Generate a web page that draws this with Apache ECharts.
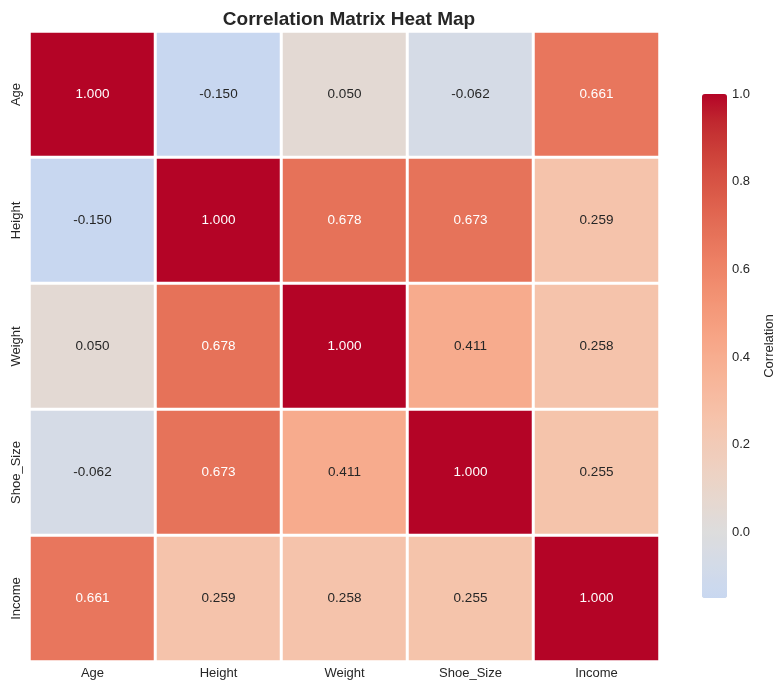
<!DOCTYPE html>
<html><head><meta charset="utf-8">
<script src="https://cdn.jsdelivr.net/npm/echarts@6/dist/echarts.min.js"></script>
<style>html,body{margin:0;padding:0;background:#fff}#c{width:781px;height:690px}</style>
</head><body><div id="c"></div>
<script>
const categories = ['Age', 'Height', 'Weight', 'Shoe_Size', 'Income'];
const rowAge = [1.000, -0.150, 0.050, -0.062, 0.661];
const rowHeight = [-0.150, 1.000, 0.678, 0.673, 0.259];
const rowWeight = [0.050, 0.678, 1.000, 0.411, 0.258];
const rowShoe = [-0.062, 0.673, 0.411, 1.000, 0.255];
const rowIncome = [0.661, 0.259, 0.258, 0.255, 1.000];
const colorbarTicks = [0.0, 0.2, 0.4, 0.6, 0.8, 1.0];
const vMin = -0.15, vMax = 1.0;

const rows = [rowAge, rowHeight, rowWeight, rowShoe, rowIncome];

// matplotlib coolwarm table
const cw = [[59,76,192],[68,90,204],[77,104,215],[87,117,225],[98,130,234],[108,142,241],[119,154,247],[130,165,251],[141,176,254],[152,185,255],[163,194,255],[174,201,253],[184,208,249],[194,213,244],[204,217,238],[213,219,230],[221,221,221],[229,216,209],[236,211,197],[241,204,185],[245,196,173],[247,187,160],[247,177,148],[247,166,135],[244,154,123],[241,141,111],[236,127,99],[229,112,88],[222,96,77],[213,80,66],[203,62,56],[192,40,47],[180,4,38]];
function coolwarm(t){
  t = Math.max(0, Math.min(1, t));
  const p = t * (cw.length - 1); const i = Math.min(cw.length - 2, Math.floor(p)); const f = p - i;
  return [0,1,2].map(k => Math.round(cw[i][k] + (cw[i+1][k] - cw[i][k]) * f));
}
function hex(c){ return '#' + c.map(x => x.toString(16).padStart(2,'0')).join(''); }
// seaborn center=0: symmetric range
const span = Math.max(Math.abs(vMin), Math.abs(vMax));
const stops = [];
const N = 60;
for (let i = 0; i <= N; i++) {
  const v = vMin + (vMax - vMin) * i / N;
  stops.push(hex(coolwarm((v + span) / (2 * span))));
}
function textColor(v){
  const c = coolwarm((v + span) / (2 * span)).map(x => { x /= 255; return x <= 0.03928 ? x / 12.92 : Math.pow((x + 0.055) / 1.055, 2.4); });
  const lum = 0.2126 * c[0] + 0.7152 * c[1] + 0.0722 * c[2];
  return lum > 0.408 ? '#262626' : '#ffffff';
}

const data = [];
rows.forEach((r, yi) => r.forEach((v, xi) => {
  data.push({ value: [xi, yi, v], label: { color: textColor(v) } });
}));

const font = 'Liberation Sans, Arial, sans-serif';
const chart = echarts.init(document.getElementById('c'), null, { renderer: 'canvas' });
chart.setOption({
  backgroundColor: '#ffffff',
  animation: false,
  title: {
    text: 'Correlation Matrix Heat Map', left: 344, top: 5, textAlign: 'center',
    textStyle: { fontFamily: font, fontSize: 19, fontWeight: 'bold', color: '#262626' }
  },
  grid: [
    { left: 29.5, top: 31.5, width: 630, height: 630 },
    { left: 702, top: 94, width: 25, height: 504 }
  ],
  xAxis: [
    { type: 'category', data: categories, gridIndex: 0, axisLine: { show: false }, axisTick: { show: false },
      splitLine: { show: false }, axisLabel: { fontFamily: font, fontSize: 13, color: '#262626', margin: 5 } },
    { type: 'value', gridIndex: 1, show: false, min: 0, max: 1 }
  ],
  yAxis: [
    { type: 'category', data: categories, inverse: true, gridIndex: 0, axisLine: { show: false }, axisTick: { show: false },
      splitLine: { show: false }, axisLabel: { fontFamily: font, fontSize: 13, color: '#262626', rotate: 90, margin: 7 } },
    { type: 'value', gridIndex: 1, position: 'right', min: vMin, max: vMax,
      axisLine: { show: false }, splitLine: { show: false },
      axisTick: { show: false },
      axisLabel: { fontFamily: font, fontSize: 13, color: '#262626', margin: 5,
        customValues: colorbarTicks, formatter: v => v.toFixed(1) },
      name: 'Correlation', nameLocation: 'middle', nameRotate: 90, nameGap: 36,
      nameTextStyle: { fontFamily: font, fontSize: 13, color: '#262626' } }
  ],
  visualMap: {
    type: 'continuous', min: vMin, max: vMax, calculable: false, show: true,
    left: 702, top: 94, itemWidth: 25, itemHeight: 504, padding: 0, text: null, showLabel: false,
    inRange: { color: stops }, seriesIndex: 0
  },
  series: [{
    type: 'heatmap', xAxisIndex: 0, yAxisIndex: 0, data: data,
    itemStyle: { borderColor: '#ffffff', borderWidth: 3 },
    label: { show: true, fontFamily: font, fontSize: 13.5, formatter: p => p.value[2].toFixed(3) },
    emphasis: { disabled: true }
  }]
});
</script></body></html>
